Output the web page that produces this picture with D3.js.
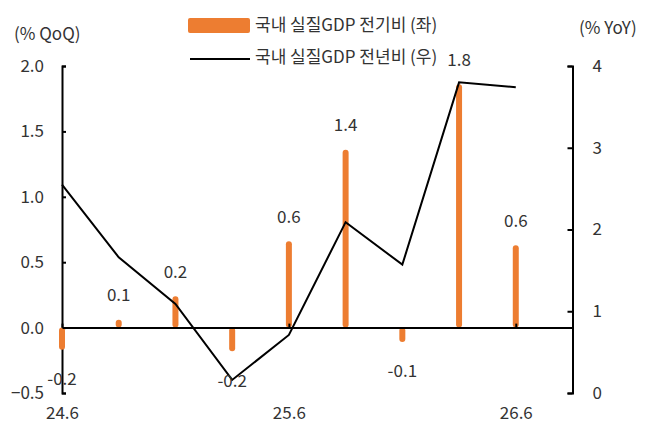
<!DOCTYPE html>
<html>
<head>
<meta charset="utf-8">
<script src="https://cdn.jsdelivr.net/npm/d3@7"></script>
<style>
  body { margin: 0; background: #fff; }
  svg text { font-family: "Noto Sans CJK KR", "Noto Sans", sans-serif; fill: #333; }
</style>
</head>
<body>
<div id="chart"></div>
<script>
// quarters on the x axis
var quarters = ["24.6", "24.9", "24.12", "25.3", "25.6", "25.9", "25.12", "26.3", "26.6"]
var xTickLabels = ["24.6", "25.6", "26.6"]
// 국내 실질GDP 전기비 (좌), % QoQ
var qoq = [-0.17, 0.06, 0.24, -0.18, 0.66, 1.36, -0.11, 1.86, 0.63]
var qoqLabels = ["-0.2", "0.1", "0.2", "-0.2", "0.6", "1.4", "-0.1", "1.8", "0.6"]
// 국내 실질GDP 전년비 (우), % YoY
var yoy = [2.55, 1.66, 1.09, 0.16, 0.71, 2.09, 1.57, 3.80, 3.74]
var leftTicks = [-0.5, 0, 0.5, 1.0, 1.5, 2.0]
var rightTicks = [0, 1, 2, 3, 4]

var width = 652, height = 437
var plotLeft = 62, plotRight = 572.5, plotTop = 66, plotBottom = 393
var fontSize = "17px"

var svg = d3.select("#chart")
    .append("svg")
    .attr("width", width)
    .attr("height", height)

var x = d3.scaleLinear()
    .domain([0, quarters.length])
    .range([plotLeft, plotRight])

var yL = d3.scaleLinear()
    .domain([-0.5, 2.0])
    .range([plotBottom, plotTop])

var yR = d3.scaleLinear()
    .domain([0, 4])
    .range([plotBottom, plotTop])

// left axis, ticks pointing inward
var gL = svg.append("g")
    .attr("transform", "translate(" + plotLeft + ",0)")
    .call(d3.axisLeft(yL).tickValues(leftTicks).tickFormat(d3.format(".1f"))
        .tickSizeInner(-4).tickSizeOuter(-4).tickPadding(18))
gL.select(".domain").attr("stroke", "#000").attr("stroke-width", 2)
gL.selectAll(".tick line").attr("stroke", "#000").attr("stroke-width", 2)
gL.selectAll("text").style("font-size", fontSize).attr("fill", "#333")

// right axis
var gR = svg.append("g")
    .attr("transform", "translate(" + plotRight + ",0)")
    .call(d3.axisRight(yR).tickValues(rightTicks).tickFormat(d3.format("d"))
        .tickSizeInner(-5).tickSizeOuter(-5).tickPadding(20))
gR.select(".domain").attr("stroke", "#000").attr("stroke-width", 2)
gR.selectAll(".tick line").attr("stroke", "#000").attr("stroke-width", 2)
gR.selectAll("text").style("font-size", fontSize).attr("fill", "#333")

// axis titles
svg.append("text").attr("x", 14).attr("y", 32).attr("dominant-baseline", "central")
    .style("font-size", fontSize).text("(% QoQ)")
svg.append("text").attr("x", 579).attr("y", 26).attr("dominant-baseline", "central")
    .style("font-size", fontSize).text("(% YoY)")

// bars
svg.append("g")
    .selectAll("rect")
    .data(qoq)
    .enter()
    .append("rect")
    .attr("x", function (d, i) { return x(i) - 3 })
    .attr("y", function (d) { return Math.min(yL(d), yL(0)) })
    .attr("width", 6)
    .attr("height", function (d) { return Math.abs(yL(d) - yL(0)) })
    .attr("rx", 3)
    .attr("fill", "#ED7D31")

// x axis at zero
var gX = svg.append("g")
    .attr("transform", "translate(0," + yL(0) + ")")
    .call(d3.axisBottom(x).tickValues([0, 4, 8]).tickFormat("")
        .tickSizeInner(-4).tickSizeOuter(0))
gX.select(".domain").attr("stroke", "#000").attr("stroke-width", 2)
gX.selectAll(".tick line").attr("stroke", "#000").attr("stroke-width", 2)

// x labels at the bottom
var gXL = svg.append("g")
    .attr("transform", "translate(0,403)")
    .call(d3.axisBottom(x).tickValues([0, 4, 8])
        .tickFormat(function (d, i) { return xTickLabels[i] })
        .tickSize(0).tickPadding(4))
gXL.select(".domain").remove()
gXL.selectAll("text").style("font-size", fontSize).attr("fill", "#333")

// yoy line
var line = d3.line()
    .x(function (d, i) { return x(i) })
    .y(function (d) { return yR(d) })

svg.append("path")
    .datum(yoy)
    .attr("d", line)
    .attr("fill", "none")
    .attr("stroke", "#000")
    .attr("stroke-width", 2)

// bar labels
svg.append("g")
    .selectAll("text")
    .data(qoq)
    .enter()
    .append("text")
    .attr("x", function (d, i) { return x(i) })
    .attr("y", function (d) { return d >= 0 ? yL(d) - 26 : yL(d) + 28 })
    .attr("text-anchor", "middle")
    .attr("dominant-baseline", "central")
    .style("font-size", fontSize)
    .text(function (d, i) { return qoqLabels[i] })

// legend
var legend = svg.append("g")
legend.append("rect")
    .attr("x", 188).attr("y", 18).attr("width", 62).attr("height", 15)
    .attr("rx", 2).attr("fill", "#ED7D31")
legend.append("text").attr("x", 255).attr("y", 23).attr("dominant-baseline", "central")
    .style("font-size", fontSize).text("국내 실질GDP 전기비 (좌)")
legend.append("line")
    .attr("x1", 190).attr("x2", 250).attr("y1", 59).attr("y2", 59)
    .attr("stroke", "#000").attr("stroke-width", 2)
legend.append("text").attr("x", 255).attr("y", 55).attr("dominant-baseline", "central")
    .style("font-size", fontSize).text("국내 실질GDP 전년비 (우)")
</script>
</body>
</html>
